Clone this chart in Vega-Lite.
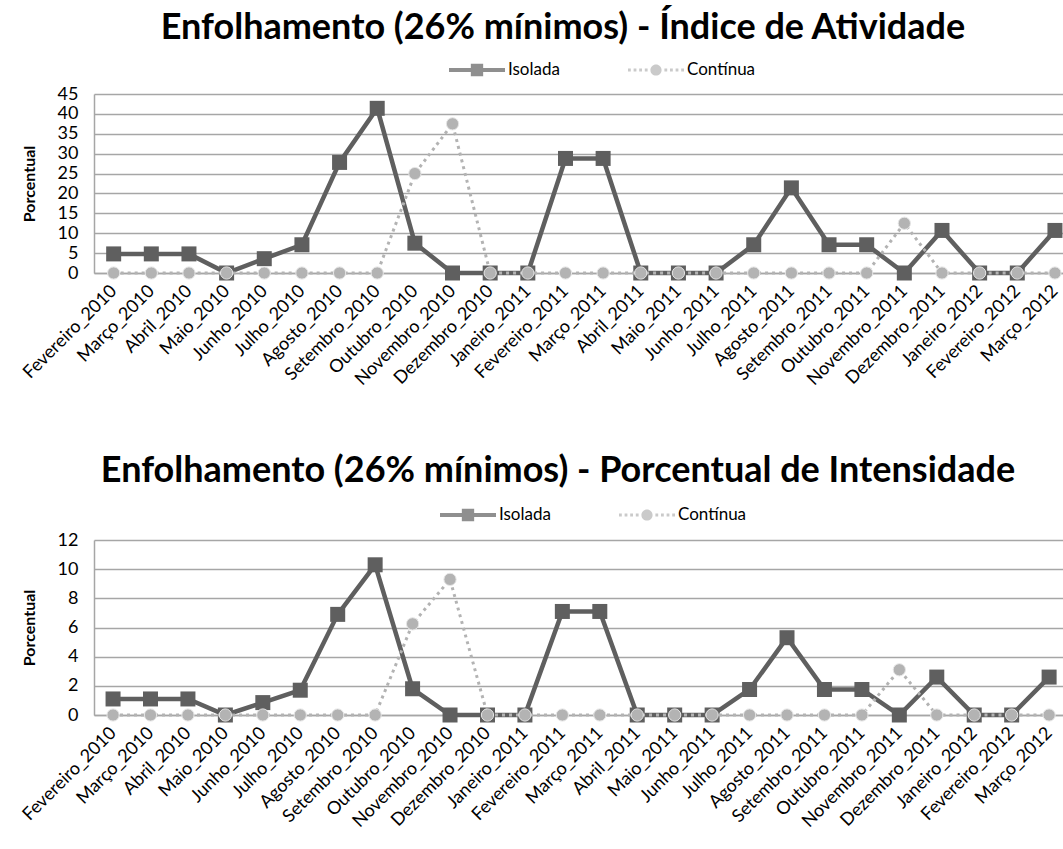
{
  "$schema": "https://vega.github.io/schema/vega-lite/v6.json",
  "padding": {"left": 19, "top": 10, "right": 0, "bottom": 0},
  "background": "white",
  "spacing": 64,
  "datasets": {
    "d": [
      {"m": "Fevereiro_2010", "s": "Isolada", "a": 4.8, "p": 1.1},
      {"m": "Março_2010", "s": "Isolada", "a": 4.8, "p": 1.1},
      {"m": "Abril_2010", "s": "Isolada", "a": 4.8, "p": 1.1},
      {"m": "Maio_2010", "s": "Isolada", "a": 0, "p": 0},
      {"m": "Junho_2010", "s": "Isolada", "a": 3.6, "p": 0.85},
      {"m": "Julho_2010", "s": "Isolada", "a": 7.1, "p": 1.7},
      {"m": "Agosto_2010", "s": "Isolada", "a": 27.8, "p": 6.9},
      {"m": "Setembro_2010", "s": "Isolada", "a": 41.4, "p": 10.3},
      {"m": "Outubro_2010", "s": "Isolada", "a": 7.5, "p": 1.8},
      {"m": "Novembro_2010", "s": "Isolada", "a": 0, "p": 0},
      {"m": "Dezembro_2010", "s": "Isolada", "a": 0, "p": 0},
      {"m": "Janeiro_2011", "s": "Isolada", "a": 0, "p": 0},
      {"m": "Fevereiro_2011", "s": "Isolada", "a": 28.8, "p": 7.1},
      {"m": "Março_2011", "s": "Isolada", "a": 28.8, "p": 7.1},
      {"m": "Abril_2011", "s": "Isolada", "a": 0, "p": 0},
      {"m": "Maio_2011", "s": "Isolada", "a": 0, "p": 0},
      {"m": "Junho_2011", "s": "Isolada", "a": 0, "p": 0},
      {"m": "Julho_2011", "s": "Isolada", "a": 7.1, "p": 1.75},
      {"m": "Agosto_2011", "s": "Isolada", "a": 21.4, "p": 5.3},
      {"m": "Setembro_2011", "s": "Isolada", "a": 7.1, "p": 1.75},
      {"m": "Outubro_2011", "s": "Isolada", "a": 7.1, "p": 1.75},
      {"m": "Novembro_2011", "s": "Isolada", "a": 0, "p": 0},
      {"m": "Dezembro_2011", "s": "Isolada", "a": 10.7, "p": 2.6},
      {"m": "Janeiro_2012", "s": "Isolada", "a": 0, "p": 0},
      {"m": "Fevereiro_2012", "s": "Isolada", "a": 0, "p": 0},
      {"m": "Março_2012", "s": "Isolada", "a": 10.7, "p": 2.6},
      {"m": "Fevereiro_2010", "s": "Contínua", "a": 0, "p": 0},
      {"m": "Março_2010", "s": "Contínua", "a": 0, "p": 0},
      {"m": "Abril_2010", "s": "Contínua", "a": 0, "p": 0},
      {"m": "Maio_2010", "s": "Contínua", "a": 0, "p": 0},
      {"m": "Junho_2010", "s": "Contínua", "a": 0, "p": 0},
      {"m": "Julho_2010", "s": "Contínua", "a": 0, "p": 0},
      {"m": "Agosto_2010", "s": "Contínua", "a": 0, "p": 0},
      {"m": "Setembro_2010", "s": "Contínua", "a": 0, "p": 0},
      {"m": "Outubro_2010", "s": "Contínua", "a": 25, "p": 6.25},
      {"m": "Novembro_2010", "s": "Contínua", "a": 37.5, "p": 9.3},
      {"m": "Dezembro_2010", "s": "Contínua", "a": 0, "p": 0},
      {"m": "Janeiro_2011", "s": "Contínua", "a": 0, "p": 0},
      {"m": "Fevereiro_2011", "s": "Contínua", "a": 0, "p": 0},
      {"m": "Março_2011", "s": "Contínua", "a": 0, "p": 0},
      {"m": "Abril_2011", "s": "Contínua", "a": 0, "p": 0},
      {"m": "Maio_2011", "s": "Contínua", "a": 0, "p": 0},
      {"m": "Junho_2011", "s": "Contínua", "a": 0, "p": 0},
      {"m": "Julho_2011", "s": "Contínua", "a": 0, "p": 0},
      {"m": "Agosto_2011", "s": "Contínua", "a": 0, "p": 0},
      {"m": "Setembro_2011", "s": "Contínua", "a": 0, "p": 0},
      {"m": "Outubro_2011", "s": "Contínua", "a": 0, "p": 0},
      {"m": "Novembro_2011", "s": "Contínua", "a": 12.5, "p": 3.1},
      {"m": "Dezembro_2011", "s": "Contínua", "a": 0, "p": 0},
      {"m": "Janeiro_2012", "s": "Contínua", "a": 0, "p": 0},
      {"m": "Fevereiro_2012", "s": "Contínua", "a": 0, "p": 0},
      {"m": "Março_2012", "s": "Contínua", "a": 0, "p": 0}
    ]
  },
  "vconcat": [
    {
      "width": 972,
      "height": 179,
      "title": {"text": "Enfolhamento (26% mínimos) - Índice de Atividade", "dx": -17, "offset": -5},
      "data": {"name": "d"},
      "encoding": {
        "x": {"field": "m", "type": "ordinal", "sort": null, "scale": {"type": "point", "padding": 0.408, "align": 0.64}, "axis": {"title": null}},
        "y": {"field": "a", "type": "quantitative", "scale": {"domain": [0, 45], "nice": false}, "axis": {"values": [0, 5, 10, 15, 20, 25, 30, 35, 40, 45], "title": "Porcentual"}}
      },
      "layer": [
        {"transform": [{"filter": "datum.s === 'Isolada'"}], "mark": {"type": "line", "color": "#5f5f5f", "strokeWidth": 4.5}},
        {"transform": [{"filter": "datum.s === 'Isolada'"}], "mark": {"type": "point", "shape": "square", "filled": true, "size": 225, "color": "#5f5f5f", "opacity": 1}},
        {"transform": [{"filter": "datum.s === 'Contínua'"}], "mark": {"type": "line", "color": "#b3b3b3", "strokeWidth": 3, "strokeDash": [3, 4]}},
        {"transform": [{"filter": "datum.s === 'Contínua'"}], "mark": {"type": "point", "shape": "circle", "filled": true, "size": 150, "color": "#b3b3b3", "stroke": "#e6e6e6", "strokeWidth": 1, "opacity": 1}},
        {
          "transform": [{"filter": "false"}],
          "mark": {"type": "point", "filled": true},
          "encoding": {
            "shape": {"field": "s", "type": "nominal", "scale": {"domain": ["Isolada", "Contínua"], "range": ["M-1,-0.075H1V0.075H-1Z M-0.22,-0.22H0.22V0.22H-0.22Z", "M-1,-0.05H-0.9V0.05H-1Z M-0.8,-0.05H-0.7V0.05H-0.8Z M-0.6,-0.05H-0.5V0.05H-0.6Z M-0.4,-0.05H-0.3V0.05H-0.4Z M0.3,-0.05H0.4V0.05H0.3Z M0.5,-0.05H0.6V0.05H0.5Z M0.7,-0.05H0.8V0.05H0.7Z M0.9,-0.05H1V0.05H0.9Z M0.2,0A0.2,0.2 0 1,1 -0.2,0A0.2,0.2 0 1,1 0.2,0Z"]},
              "legend": {"title": null, "orient": "none", "legendX": 355, "legendY": -52, "direction": "horizontal", "symbolSize": 3136, "symbolStrokeWidth": 0, "columnPadding": 68, "labelOffset": 3}},
            "color": {"field": "s", "type": "nominal", "scale": {"domain": ["Isolada", "Contínua"], "range": ["#5f5f5f", "#b3b3b3"]},
              "legend": {"title": null, "orient": "none", "legendX": 355, "legendY": -52, "direction": "horizontal", "symbolSize": 3136, "symbolStrokeWidth": 0, "columnPadding": 68, "labelOffset": 3}}
          }
        }
      ]
    },
    {
      "width": 972,
      "height": 175,
      "title": {"text": "Enfolhamento (26% mínimos) - Porcentual de Intensidade", "dx": -22, "offset": -3},
      "data": {"name": "d"},
      "encoding": {
        "x": {"field": "m", "type": "ordinal", "sort": null, "scale": {"type": "point", "padding": 0.48, "align": 0.53}, "axis": {"title": null}},
        "y": {"field": "p", "type": "quantitative", "scale": {"domain": [0, 12], "nice": false}, "axis": {"values": [0, 2, 4, 6, 8, 10, 12], "title": "Porcentual"}}
      },
      "layer": [
        {"transform": [{"filter": "datum.s === 'Isolada'"}], "mark": {"type": "line", "color": "#5f5f5f", "strokeWidth": 4.5}},
        {"transform": [{"filter": "datum.s === 'Isolada'"}], "mark": {"type": "point", "shape": "square", "filled": true, "size": 225, "color": "#5f5f5f", "opacity": 1}},
        {"transform": [{"filter": "datum.s === 'Contínua'"}], "mark": {"type": "line", "color": "#b3b3b3", "strokeWidth": 3, "strokeDash": [3, 4]}},
        {"transform": [{"filter": "datum.s === 'Contínua'"}], "mark": {"type": "point", "shape": "circle", "filled": true, "size": 150, "color": "#b3b3b3", "stroke": "#e6e6e6", "strokeWidth": 1, "opacity": 1}},
        {
          "transform": [{"filter": "false"}],
          "mark": {"type": "point", "filled": true},
          "encoding": {
            "shape": {"field": "s", "type": "nominal", "scale": {"domain": ["Isolada", "Contínua"], "range": ["M-1,-0.075H1V0.075H-1Z M-0.22,-0.22H0.22V0.22H-0.22Z", "M-1,-0.05H-0.9V0.05H-1Z M-0.8,-0.05H-0.7V0.05H-0.8Z M-0.6,-0.05H-0.5V0.05H-0.6Z M-0.4,-0.05H-0.3V0.05H-0.4Z M0.3,-0.05H0.4V0.05H0.3Z M0.5,-0.05H0.6V0.05H0.5Z M0.7,-0.05H0.8V0.05H0.7Z M0.9,-0.05H1V0.05H0.9Z M0.2,0A0.2,0.2 0 1,1 -0.2,0A0.2,0.2 0 1,1 0.2,0Z"]},
              "legend": {"title": null, "orient": "none", "legendX": 346, "legendY": -53, "direction": "horizontal", "symbolSize": 3136, "symbolStrokeWidth": 0, "columnPadding": 68, "labelOffset": 3}},
            "color": {"field": "s", "type": "nominal", "scale": {"domain": ["Isolada", "Contínua"], "range": ["#5f5f5f", "#b3b3b3"]},
              "legend": {"title": null, "orient": "none", "legendX": 346, "legendY": -53, "direction": "horizontal", "symbolSize": 3136, "symbolStrokeWidth": 0, "columnPadding": 68, "labelOffset": 3}}
          }
        }
      ]
    }
  ],
  "resolve": {"scale": {"x": "independent", "y": "independent", "color": "independent", "shape": "independent"}, "legend": {"color": "independent", "shape": "independent"}},
  "config": {
    "font": "Lato",
    "view": {"stroke": null},
    "title": {"fontSize": 36, "fontWeight": "bold", "font": "Lato", "color": "#000000", "anchor": "middle"},
    "axisX": {"labelAngle": -45, "labelAlign": "right", "labelBaseline": "middle", "labelFontSize": 18, "labelColor": "#000000", "labelPadding": 15, "labelDx": -9, "ticks": false, "domainColor": "#a6a6a6", "domainWidth": 1.5, "grid": false, "labelOverlap": false},
    "axisY": {"labelFontSize": 18, "labelColor": "#000000", "labelPadding": 16, "ticks": false, "domainColor": "#a6a6a6", "domainWidth": 1.5, "grid": true, "gridColor": "#a6a6a6", "gridWidth": 1.5, "titleFontSize": 16, "titleFontWeight": "bold", "titleColor": "#000000", "titlePadding": 20},
    "legend": {"labelFontSize": 17, "labelColor": "#000000", "labelFont": "Lato"}
  }
}
